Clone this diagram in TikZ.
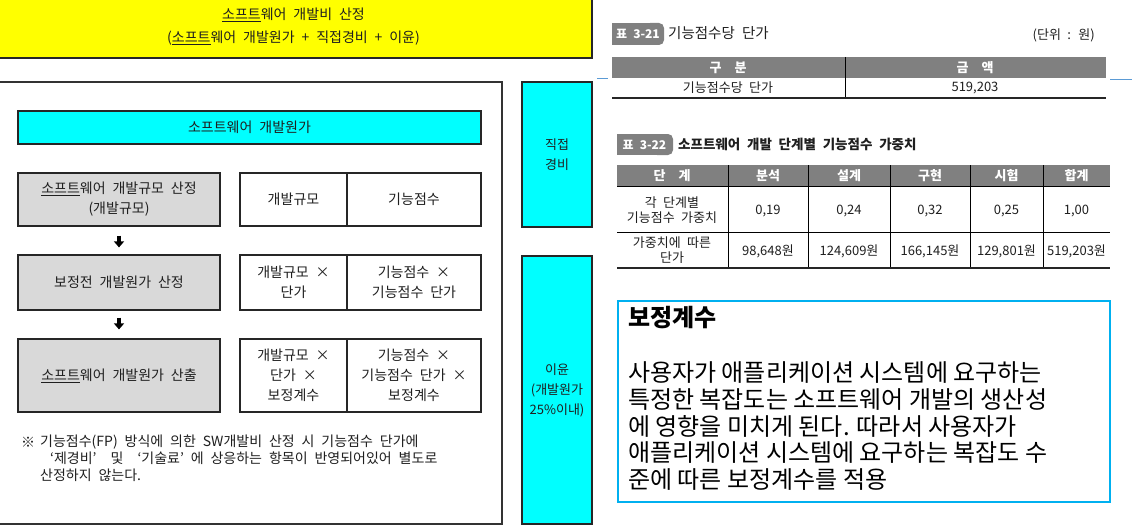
\documentclass[tikz,border=0pt]{standalone}
\usepackage{fontspec}
\setmainfont{Noto Sans CJK KR}
\newfontfamily\kr{Noto Sans CJK KR}[WordSpace=2.2]
\usetikzlibrary{arrows.meta}
\definecolor{cyanbox}{HTML}{00FFFF}
\definecolor{graybox}{HTML}{D9D9D9}
\definecolor{hdr}{HTML}{808080}
\definecolor{blueb}{HTML}{00B0F0}
\definecolor{tickc}{HTML}{5B9BD5}
\definecolor{txt}{HTML}{1F1F1F}
\definecolor{yel}{HTML}{FFFF00}
\begin{document}
\begin{tikzpicture}[x=1pt,y=-1pt,
  box/.style={draw=black!85, line width=1.2pt, inner sep=0pt, align=center, text=txt, font=\kr\fontsize{14}{20}\selectfont},
  graystep/.style={box, fill=graybox, minimum width=202pt},
  whitecell/.style={box, fill=white},
  cyancol/.style={box, fill=cyanbox, minimum width=70pt, font=\kr\fontsize{13}{20}\selectfont},
  downarrow/.style={-{Triangle[length=6pt,width=10pt]}, line width=3.5pt, black},
  fnote/.style={anchor=west, inner sep=0pt, text=txt, font=\kr\fontsize{14}{16}\selectfont},
  tabtag/.style={inner sep=0pt, text=white, font=\kr\bfseries\fontsize{12}{12}\selectfont},
  hdrtxt/.style={inner sep=0pt, text=white, font=\kr\bfseries\fontsize{13}{14}\selectfont},
  celltxt/.style={inner sep=0pt, align=center, text=txt, font=\kr\fontsize{13}{15.5}\selectfont},
  bodyline/.style={anchor=west, inner sep=0pt, font=\fontsize{24}{26}\selectfont}
]
\useasboundingbox (0,0) rectangle (1132,527);
\clip (0,0) rectangle (1132,527);
\fill[white] (0,0) rectangle (1132,527);

% top yellow banner
\node[draw=black!85, line width=1.4pt, fill=yel, minimum width=597pt, minimum height=62pt, inner sep=0pt,
      align=center, text=txt, font=\kr\fontsize{14}{23}\selectfont] (banner) at (293.5,27)
  {\underline{소프트}웨어 개발비 산정\\(\underline{소프트}웨어 개발원가 + 직접경비 + 이윤)};

% left panel
\node[draw=black!80, line width=1.1pt, minimum width=507pt, minimum height=442pt, inner sep=0pt] (panel) at (248.5,303) {};

\node[box, fill=cyanbox, minimum width=463pt, minimum height=33pt] (cost) at (249.5,127.5) {소프트웨어 개발원가};

\node[graystep, minimum height=53pt] (g1) at (119,199.5) {\underline{소프트}웨어 개발규모 산정\\(개발규모)};
\node[graystep, minimum height=55pt] (g2) at (119,282.5) {보정전 개발원가 산정};
\node[graystep, minimum height=73pt] (g3) at (119,375.5) {\underline{소프트}웨어 개발원가 산출};

\node[whitecell, minimum width=107pt, minimum height=53pt] (w1a) at (293.5,199.5) {개발규모};
\node[whitecell, minimum width=134pt, minimum height=53pt] (w1b) at (414,199.5) {기능점수};
\node[whitecell, minimum width=107pt, minimum height=55pt] (w2a) at (293.5,282.5) {개발규모 ×\\단가};
\node[whitecell, minimum width=134pt, minimum height=55pt] (w2b) at (414,282.5) {기능점수 ×\\기능점수 단가};
\node[whitecell, minimum width=107pt, minimum height=73pt] (w3a) at (293.5,375.5) {개발규모 ×\\단가 ×\\보정계수};
\node[whitecell, minimum width=134pt, minimum height=73pt] (w3b) at (414,375.5) {기능점수 ×\\기능점수 단가 ×\\보정계수};

\draw[downarrow, shorten <=9pt, shorten >=7pt] (g1) -- (g2);
\draw[downarrow, shorten <=7pt, shorten >=9pt] (g2) -- (g3);

\node[fnote] (fnmark) at (21,442) {※};
\node[fnote] (fn1) at (40,442) {기능점수(FP) 방식에 의한 SW개발비 산정 시 기능점수 단가에};
\node[fnote] (fn2) at (50,458.5) {‘제경비’\quad 및\quad ‘기술료’ 에 상응하는 항목이 반영되어있어 별도로};
\node[fnote] (fn3) at (40,475) {산정하지 않는다.};

% cyan columns
\node[cyancol, minimum height=145pt] (direct) at (557,154.5) {직접\\경비};
\node[cyancol, minimum height=268pt] (profit) at (557,390) {이윤\\(개발원가\\25\%이내)};

% blue ticks
\coordinate (tl1) at (597,78.5); \coordinate (tl2) at (608,78.5);
\coordinate (tr1) at (1110,79.5); \coordinate (tr2) at (1132,79.5);
\draw[tickc, line width=1pt] (tl1) -- (tl2);
\draw[tickc, line width=1pt] (tr1) -- (tr2);

% table 3-21
\fill[hdr] (612,23) rectangle (656,45);
\fill[hdr, rounded corners=5pt] (645,23) rectangle (664,45);
\node[tabtag] (tag21) at (638,34) {표 3-21};
\node[anchor=west, inner sep=0pt, text=txt, font=\kr\fontsize{14.5}{15}\selectfont] (title21) at (668,33) {기능점수당 단가};
\node[anchor=east, inner sep=0pt, text=txt, font=\kr\fontsize{13}{14}\selectfont] (unit21) at (1095,35) {(단위 : 원)};
\fill[hdr] (612,57) rectangle (1106,78);
\draw[black, line width=1pt] (845,57) -- (845,98);
\draw[black!85, line width=1.3pt] (612,98) -- (1106,98);
\node[hdrtxt] (h21a) at (728,67.5) {구\quad 분};
\node[hdrtxt] (h21b) at (975,67.5) {금\quad 액};
\node[celltxt] (c21a) at (728,88) {기능점수당 단가};
\node[celltxt] (c21b) at (975,88) {519,203};

% table 3-22
\fill[hdr] (617,134) rectangle (665,155);
\fill[hdr, rounded corners=5pt] (652,134) rectangle (673,155);
\node[tabtag] (tag22) at (644.5,144.5) {표 3-22};
\node[anchor=west, inner sep=0pt, text=txt, font=\kr\bfseries\fontsize{13.5}{15}\selectfont] (title22) at (678,144) {소프트웨어 개발 단계별 기능점수 가중치};
\fill[hdr] (617,165) rectangle (1110,186);
\foreach \xx in {728,808,890,970,1043} { \draw[black, line width=0.9pt] (\xx,165) -- (\xx,268); }
\draw[black, line width=0.7pt] (617,186) -- (1110,186);
\draw[black, line width=0.8pt] (617,232) -- (1110,232);
\draw[black!85, line width=1.3pt] (617,268) -- (1110,268);
\node[hdrtxt] (h0) at (672,175.5) {단\quad 계};
\node[hdrtxt] (h1) at (768,175.5) {분석};
\node[hdrtxt] (h2) at (849,175.5) {설계};
\node[hdrtxt] (h3) at (930,175.5) {구현};
\node[hdrtxt] (h4) at (1006.5,175.5) {시험};
\node[hdrtxt] (h5) at (1076.5,175.5) {합계};
\node[celltxt] (r10) at (672,210) {각 단계별\\기능점수 가중치};
\node[celltxt] (r11) at (768,211) {0,19};
\node[celltxt] (r12) at (849,211) {0,24};
\node[celltxt] (r13) at (930,211) {0,32};
\node[celltxt] (r14) at (1006.5,211) {0,25};
\node[celltxt] (r15) at (1076.5,211) {1,00};
\node[celltxt] (r20) at (672,250) {가중치에 따른\\단가};
\node[celltxt] (r21) at (768,251) {98,648원};
\node[celltxt] (r22) at (849,251) {124,609원};
\node[celltxt] (r23) at (930,251) {166,145원};
\node[celltxt] (r24) at (1006.5,251) {129,801원};
\node[celltxt] (r25) at (1076.5,251) {519,203원};

% text box
\node[draw=blueb, line width=2.5pt, minimum width=492pt, minimum height=201pt, inner sep=0pt] (tbox) at (864,401.5) {};
\node[anchor=west, inner sep=0pt, font=\bfseries\fontsize{24}{26}\selectfont] (tbtitle) at (628,318) {보정계수};
\node[bodyline] (b1) at (628,373) {사용자가 애플리케이션 시스템에 요구하는};
\node[bodyline] (b2) at (628,399.5) {특정한 복잡도는 소프트웨어 개발의 생산성};
\node[bodyline] (b3) at (628,426) {에 영향을 미치게 된다. 따라서 사용자가};
\node[bodyline] (b4) at (628,452.5) {애플리케이션 시스템에 요구하는 복잡도 수};
\node[bodyline] (b5) at (628,479) {준에 따른 보정계수를 적용};
\end{tikzpicture}
\end{document}
